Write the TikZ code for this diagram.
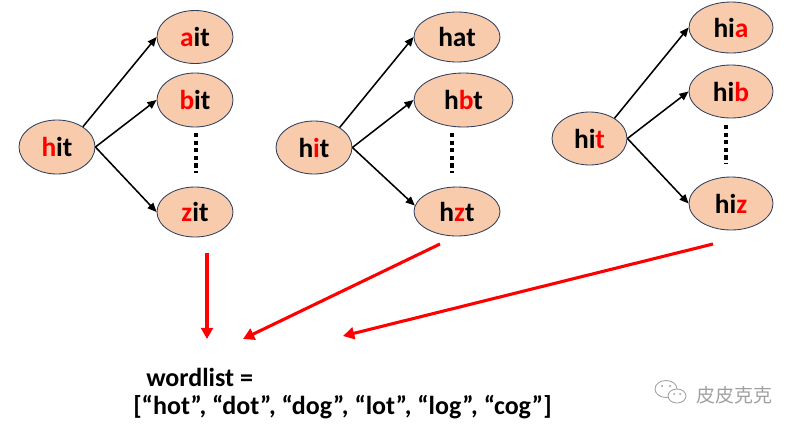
\documentclass[tikz,border=0pt]{standalone}
\usepackage{fontspec}
\setmainfont{Carlito}
\newfontfamily\cjkfont{Noto Sans CJK SC}
\usetikzlibrary{arrows.meta, shapes.geometric}
\definecolor{word-fill}{HTML}{F8CBAD}
\definecolor{word-edge}{HTML}{2E3F5C}
\definecolor{mark-grey}{HTML}{A0A0A0}
\newlength\pxl
\setlength\pxl{0.025cm}
\newcommand\chg[1]{\textcolor{red}{#1}}

\begin{document}
\begin{tikzpicture}[x=\pxl, y=-\pxl,
      word/.style 2 args={ellipse, draw=word-edge, line width=0.6pt,
          fill=word-fill, inner sep=0pt, minimum width=#1\pxl,
          minimum height=#2\pxl, font=\bfseries\fontsize{19.5}{21}\selectfont},
      branch/.style={-{Triangle[length=6.5pt,width=5.5pt]}, line width=1.1pt},
      hint/.style={-{Triangle[length=8pt,width=8.5pt]}, red, line width=2.2pt},
      gap/.style={line width=3pt, dash pattern=on 3pt off 2.4pt},
      listtext/.style={anchor=base west, inner sep=0pt,
          font=\bfseries\fontsize{18.5}{21}\selectfont}]
    \useasboundingbox (0,0) rectangle (800,429);

    \node[word={76}{54}] (hitA) at (57,147) {\chg{h}it};
    \node[word={76}{53}] (aitA) at (195,37) {\chg{a}it};
    \node[word={76}{54}] (bitA) at (195,100) {\chg{b}it};
    \node[word={76}{50}] (zitA) at (195,212) {\chg{z}it};
    \draw[gap] (196,133) -- (196,173);
    \draw[branch] (hitA.38) -- (aitA.west);
    \draw[branch] (hitA.east) -- (bitA.west);
    \draw[branch] (hitA.east) -- (zitA.west);

    \node[word={76}{53}] (hitB) at (314,147.5) {h\chg{i}t};
    \node[word={86}{50}] (hatB) at (457,37) {hat};
    \node[word={99}{54}] (hbtB) at (463.5,100) {h\chg{b}t};
    \node[word={86}{49}] (hztB) at (457,211.5) {h\chg{z}t};
    \draw[gap] (452,133) -- (452,173);
    \draw[branch] (hitB.38) -- (hatB.west);
    \draw[branch] (hitB.east) -- (hbtB.west);
    \draw[branch] (hitB.east) -- (hztB.172);

    \node[word={75}{53}] (hitC) at (589.5,138.5) {hi\chg{t}};
    \node[word={84}{51}] (hiaC) at (731,27.5) {hi\chg{a}};
    \node[word={84}{53}] (hibC) at (731,91.5) {hi\chg{b}};
    \node[word={84}{53}] (hizC) at (731,203.5) {hi\chg{z}};
    \draw[gap] (726,125) -- (726,164);
    \draw[branch] (hitC.39) -- (hiaC.west);
    \draw[branch] (hitC.east) -- (hibC.west);
    \draw[branch] (hitC.east) -- (hizC.west);

    \node[listtext] (wlname) at (146,386) {wordlist =};
    \node[listtext] (wlitems) at (133,414)
          {[“hot”, “dot”, “dog”, “lot”, “log”, “cog”]};

    \coordinate (fromA) at (207,253);
    \coordinate (toA) at (207,339);
    \coordinate (fromB) at (440,244);
    \coordinate (toB) at (243,339);
    \coordinate (fromC) at (713,244);
    \coordinate (toC) at (343,336);
    \draw[hint] (fromA) -- (toA);
    \draw[hint] (fromB) -- (toB);
    \draw[hint] (fromC) -- (toC);

    \draw[mark-grey, line width=0.6pt] (666,389) ellipse [x radius=11, y radius=8.5];
    \draw[mark-grey, line width=0.6pt, fill=white] (677,396) ellipse [x radius=9, y radius=7];
    \fill[mark-grey] (662,386) circle [radius=1.2] (670,386) circle [radius=1.2]
          (674,394) circle [radius=1] (680,394) circle [radius=1];
    \node[mark-grey, font=\cjkfont\fontsize{13.5}{15}\selectfont, anchor=west,
          inner sep=0pt] (mark) at (696,395) {皮皮克克};
\end{tikzpicture}
\end{document}
